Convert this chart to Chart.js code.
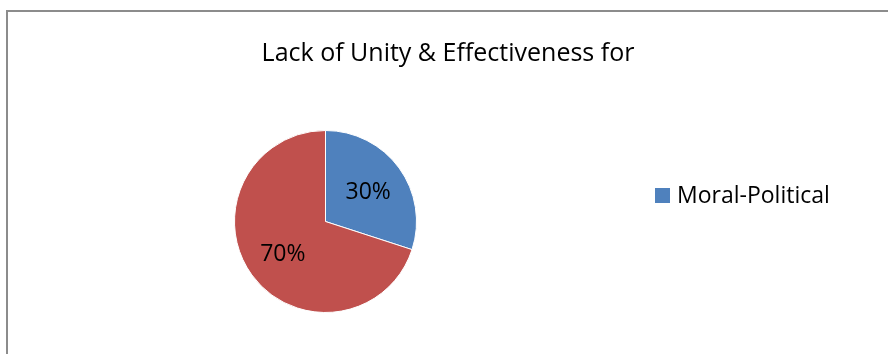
<!DOCTYPE html>
<html>
<head>
<meta charset="utf-8">
<script src="https://cdn.jsdelivr.net/npm/chart.js@4/dist/chart.umd.min.js"></script>
<style>
  body { margin: 0; background: #fff; }
  canvas { display: block; }
</style>
</head>
<body>
<canvas id="myChart" width="888" height="354"></canvas>
<script>
// chart data
const chartTitle = 'Lack of Unity & Effectiveness for';
const categories = ['Moral-Political', ''];
const values = [30, 70];
const colors = ['#4F81BD', '#C0504D'];

const FONT = '"Open Sans", "Noto Sans", sans-serif';

// border, title, legend and % labels drawn here
const decor = {
	id: 'decor',
	beforeDraw(chart) {
		const ctx = chart.ctx;
		ctx.save();
		ctx.fillStyle = '#fff';
		ctx.fillRect(0, 0, chart.width, chart.height);
		ctx.strokeStyle = '#8c8c8c';
		ctx.lineWidth = 2;
		ctx.strokeRect(7, 11, chart.width + 20, chart.height + 20);
		ctx.restore();
	},
	afterDraw(chart) {
		const ctx = chart.ctx;
		ctx.save();
		// title
		ctx.fillStyle = '#000';
		ctx.font = '25px ' + FONT;
		ctx.textAlign = 'center';
		ctx.textBaseline = 'alphabetic';
		ctx.fillText(chartTitle, 448, 61);

		// percentage labels
		const meta = chart.getDatasetMeta(0);
		const total = values.reduce((a, b) => a + b, 0);
		ctx.font = '23px ' + FONT;
		meta.data.forEach((arc, i) => {
			const p = arc.getProps(['x', 'y', 'startAngle', 'endAngle', 'outerRadius'], true);
			const mid = (p.startAngle + p.endAngle) / 2;
			const r = p.outerRadius * 0.58;
			const pct = Math.round(values[i] / total * 100) + '%';
			ctx.fillText(pct, p.x + Math.cos(mid) * r, p.y + Math.sin(mid) * r + 8.5);
		});

		// legend (only named categories)
		let y = 195.5;
		ctx.textAlign = 'left';
		ctx.font = '23px ' + FONT;
		categories.forEach((c, i) => {
			if (!c) return;
			ctx.fillStyle = colors[i];
			ctx.fillRect(655, y - 7.5, 15, 15);
			ctx.fillStyle = '#000';
			ctx.fillText(c, 677, y + 7.5);
			y += 28;
		});
		ctx.restore();
	}
};

const ctx = document.getElementById('myChart').getContext('2d');
new Chart(ctx, {
	type: 'pie',
	data: {
		labels: categories,
		datasets: [{
			data: values,
			backgroundColor: colors,
			borderColor: '#ffffff',
			borderWidth: 1
		}]
	},
	options: {
		responsive: false,
		animation: false,
		layout: {
			padding: { top: 130, bottom: 41, left: 234, right: 471 }
		},
		plugins: {
			legend: { display: false },
			tooltip: { enabled: false },
			title: { display: false }
		}
	},
	plugins: [decor]
});
</script>
</body>
</html>
